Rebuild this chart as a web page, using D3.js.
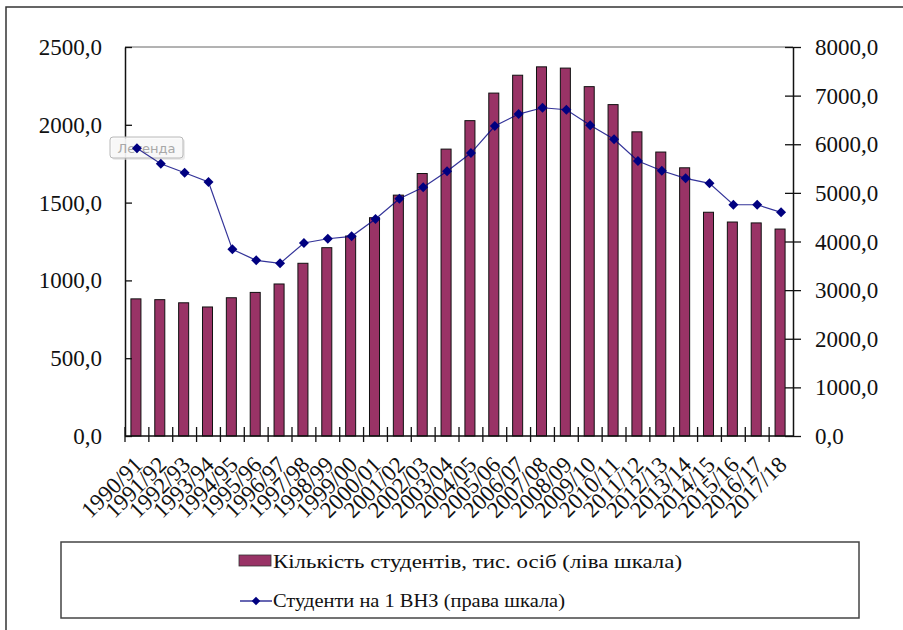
<!DOCTYPE html>
<html>
<head>
<meta charset="utf-8">
<script src="https://cdn.jsdelivr.net/npm/d3@7"></script>
<style>
    body { margin: 0; background: #fff; }
    svg { display: block; }
    svg text { font-family: "Times New Roman", Times, "Liberation Serif", "DejaVu Serif", serif; }
</style>
</head>
<body>
<script>
// academic years
var years = ["1990/91", "1991/92", "1992/93", "1993/94", "1994/95", "1995/96", "1996/97",
    "1997/98", "1998/99", "1999/00", "2000/01", "2001/02", "2002/03", "2003/04",
    "2004/05", "2005/06", "2006/07", "2007/08", "2008/09", "2009/10", "2010/11",
    "2011/12", "2012/13", "2013/14", "2014/15", "2015/16", "2016/17", "2017/18"];

// students, thousand persons (left scale)
var students = [881.3, 876.2, 856.1, 829.2, 888.5, 922.8, 977.0, 1110.0, 1210.3, 1285.4,
    1402.9, 1548.0, 1686.9, 1843.8, 2026.7, 2203.8, 2318.6, 2372.5, 2364.5, 2245.2,
    2129.8, 1954.8, 1824.9, 1723.7, 1438.0, 1375.2, 1369.4, 1330.0];

// students per one institution (right scale)
var perInst = [5916, 5600, 5415, 5223, 3839, 3613, 3551, 3969, 4057, 4107,
    4462, 4880, 5114, 5443, 5819, 6375, 6621, 6751, 6710, 6389,
    6101, 5655, 5455, 5299, 5196, 4756, 4756, 4600];

var leftTicks = [0, 500, 1000, 1500, 2000, 2500];
var rightTicks = [0, 1000, 2000, 3000, 4000, 5000, 6000, 7000, 8000];

var legendLabels = ["Кількість  студентів, тис. осіб (ліва шкала)", "Студенти на 1 ВНЗ (права шкала)"];

var width = 903, height = 630;
var plot = {left: 125, right: 793, top: 47, bottom: 436};

var barColor = "#993366";
var lineColor = "#000080";
var serif = "Times New Roman, Liberation Serif, DejaVu Serif, serif";
var fontSize = 23;

var comma = function (d) {
    return d3.format(".1f")(d).replace(".", ",");
};

var svg = d3.select("body").append("svg")
    .attr("width", width)
    .attr("height", height);

// outer frame
svg.append("rect")
    .attr("x", 6)
    .attr("y", 7)
    .attr("width", width + 20)
    .attr("height", height + 20)
    .style("fill", "none")
    .style("stroke", "#333")
    .style("stroke-width", 1.5);

var x = d3.scaleBand()
    .domain(years)
    .range([plot.left, plot.right])
    .padding(0);

var yL = d3.scaleLinear().domain([0, 2500]).range([plot.bottom, plot.top]);
var yR = d3.scaleLinear().domain([0, 8000]).range([plot.bottom, plot.top]);

var barW = x.bandwidth() * 0.42;

// plot area top border
svg.append("line")
    .attr("x1", plot.left)
    .attr("x2", plot.right)
    .attr("y1", yL(2500))
    .attr("y2", yL(2500))
    .style("stroke", "#666")
    .style("stroke-width", 1);

// bars
svg.append("g").selectAll("rect")
    .data(students)
    .enter().append("rect")
    .attr("x", function (d, i) { return x(years[i]) + (x.bandwidth() - barW) / 2 - 1; })
    .attr("y", function (d) { return yL(d); })
    .attr("width", barW)
    .attr("height", function (d) { return yL(0) - yL(d); })
    .style("fill", barColor)
    .style("stroke", "#111")
    .style("stroke-width", 1);

// left axis
var axL = svg.append("g")
    .attr("transform", "translate(" + plot.left + ",0)")
    .call(d3.axisLeft(yL).tickValues(leftTicks).tickFormat(comma).tickSizeInner(8).tickSizeOuter(0).tickPadding(15));
axL.attr("font-family", serif).attr("font-size", fontSize);
axL.select(".domain").style("stroke", "#111").style("stroke-width", 1.5);
axL.selectAll(".tick line").attr("x2", 7).style("stroke", "#111").style("stroke-width", 1.3);
axL.selectAll(".tick text")
    .attr("fill", "#111")
    .attr("dy", "0.33em");

// right axis
var axR = svg.append("g")
    .attr("transform", "translate(" + plot.right + ",0)")
    .call(d3.axisRight(yR).tickValues(rightTicks).tickFormat(comma).tickSizeInner(8).tickSizeOuter(0).tickPadding(14));
axR.attr("font-family", serif).attr("font-size", fontSize);
axR.select(".domain").style("stroke", "#111").style("stroke-width", 1.5);
axR.selectAll(".tick line").attr("x1", -8).style("stroke", "#111").style("stroke-width", 1.3);
axR.selectAll(".tick text")
    .attr("fill", "#111")
    .attr("dy", "0.33em");

// bottom axis: labels at band centres, ticks on band boundaries
var axB = svg.append("g")
    .attr("transform", "translate(0," + plot.bottom + ")")
    .call(d3.axisBottom(x).tickSize(0).tickPadding(0));
axB.attr("font-family", serif).attr("font-size", fontSize);
axB.select(".domain").remove();
axB.selectAll(".tick text")
    .attr("fill", "#111")
    .style("text-anchor", "end")
    .attr("dy", 0)
    .attr("transform", "translate(7,30) rotate(-45)");

svg.append("line")
    .attr("x1", plot.left)
    .attr("x2", plot.right)
    .attr("y1", yL(0))
    .attr("y2", yL(0))
    .style("stroke", "#111")
    .style("stroke-width", 1.5);

svg.append("g").selectAll("line")
    .data(years)
    .enter().append("line")
    .attr("x1", function (d) { return x(d); })
    .attr("x2", function (d) { return x(d); })
    .attr("y1", yL(0) - 9)
    .attr("y2", yL(0) + 6)
    .style("stroke", "#111")
    .style("stroke-width", 1.3);

// the "Легенда" hint that sits on top of the chart
var hint = svg.append("g").attr("transform", "translate(110,137)");
hint.append("rect")
    .attr("x", 2).attr("y", 2)
    .attr("width", 73).attr("height", 21)
    .attr("rx", 3)
    .style("fill", "#ddd")
    .style("opacity", 0.6);
hint.append("rect")
    .attr("width", 73).attr("height", 21)
    .attr("rx", 3)
    .style("fill", "#fafafa")
    .style("fill-opacity", 0.85)
    .style("stroke", "#b8b8b8");
hint.append("text")
    .attr("x", 36.5).attr("y", 15.5)
    .attr("text-anchor", "middle")
    .style("font-family", "DejaVu Sans, sans-serif")
    .style("font-size", "13px")
    .style("fill", "#a8a8a8")
    .text("Легенда");

// line series
var line = d3.line()
    .x(function (d, i) { return x(years[i]) + x.bandwidth() / 2; })
    .y(function (d) { return yR(d); });

svg.append("path")
    .datum(perInst)
    .attr("d", line)
    .style("fill", "none")
    .style("stroke", lineColor)
    .style("stroke-width", 1.2)
    .style("stroke-opacity", 0.8);

var diamond = d3.symbol().type(d3.symbolSquare).size(50);

svg.append("g").selectAll("path")
    .data(perInst)
    .enter().append("path")
    .attr("d", diamond)
    .attr("transform", function (d, i) {
        return "translate(" + (x(years[i]) + x.bandwidth() / 2) + "," + yR(d) + ") rotate(45)";
    })
    .style("fill", lineColor);

// legend
var leg = svg.append("g")
    .attr("font-family", serif)
    .attr("font-size", 18);
leg.append("rect")
    .attr("x", 61).attr("y", 542)
    .attr("width", 798).attr("height", 76)
    .style("fill", "#fff")
    .style("stroke", "#444")
    .style("stroke-width", 1.5);

leg.append("rect")
    .attr("x", 239).attr("y", 555)
    .attr("width", 32).attr("height", 11)
    .style("fill", barColor)
    .style("stroke", "#333")
    .style("stroke-width", 0.8);

leg.append("line")
    .attr("x1", 240).attr("x2", 272)
    .attr("y1", 601).attr("y2", 601)
    .style("stroke", lineColor)
    .style("stroke-width", 1.2);
leg.append("path")
    .attr("d", d3.symbol().type(d3.symbolSquare).size(36))
    .attr("transform", "translate(256,601) rotate(45)")
    .style("fill", lineColor);

leg.append("text")
    .attr("x", 273).attr("y", 568)
    .attr("fill", "#111")
    .attr("textLength", 409)
    .attr("lengthAdjust", "spacingAndGlyphs")
    .text(legendLabels[0]);

leg.append("text")
    .attr("x", 273).attr("y", 607)
    .attr("fill", "#111")
    .attr("textLength", 292)
    .attr("lengthAdjust", "spacingAndGlyphs")
    .text(legendLabels[1]);
</script>
</body>
</html>
